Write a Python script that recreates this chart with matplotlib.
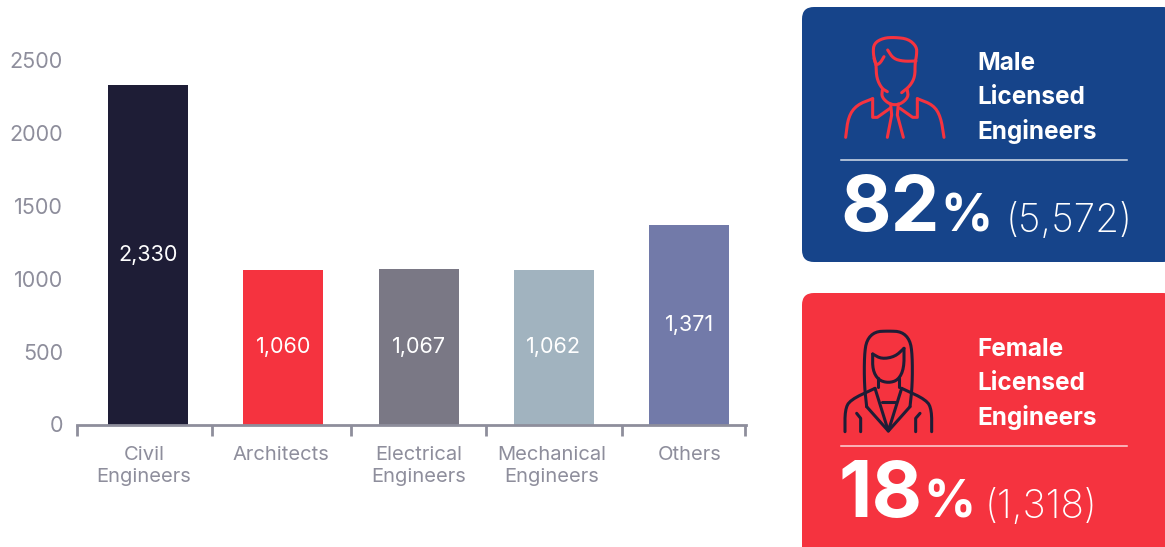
import numpy as np
import matplotlib
matplotlib.use("Agg")
import matplotlib.pyplot as plt
from matplotlib.patches import FancyBboxPatch

plt.rcParams['font.family'] = ['Inter', 'DejaVu Sans']

categories = ['Civil\nEngineers', 'Architects', 'Electrical\nEngineers', 'Mechanical\nEngineers', 'Others']
values = [2330, 1060, 1067, 1062, 1371]
value_labels = ['2,330', '1,060', '1,067', '1,062', '1,371']
bar_colors = ['#1e1d36', '#f5333f', '#7a7885', '#a1b3bf', '#727aa9']
yticks = [0, 500, 1000, 1500, 2000, 2500]
xbreaks = [-0.525, 0.47, 1.5, 2.5, 3.505, 4.415]
label_shift = [-0.03, -0.02, 0, -0.015, 0]

NAVY = '#16448a'
RED = '#f5333f'
DARK = '#1e1d36'
GREY = '#8e8e9c'
W, H = 1165, 547

fig = plt.figure(figsize=(W / 100, H / 100), dpi=100)

# overlay in pixel units for the two cards
bg = fig.add_axes([0, 0, 1, 1])
bg.set_xlim(0, W)
bg.set_ylim(H, 0)
bg.axis('off')

# bar chart
ax = fig.add_axes([77 / W, (H - 424.5) / H, (746 - 77) / W, 364.5 / H])
ax.patch.set_alpha(0)
px_per_cat = 135.3
ax.set_xlim((77 - 148) / px_per_cat, (746 - 148) / px_per_cat)
ax.set_ylim(0, 2500)
x = np.arange(len(values))
ax.bar(x, values, width=80 / px_per_cat, color=bar_colors, zorder=2)
for xi, v, lab in zip(x, values, value_labels):
    ax.text(xi, v * 0.5, lab, ha='center', va='center', color='white', fontsize=15.5)

for s in ['top', 'right', 'left']:
    ax.spines[s].set_visible(False)
ax.spines['bottom'].set_color(GREY)
ax.spines['bottom'].set_linewidth(2)
ax.set_yticks(yticks)
ax.tick_params(axis='y', length=0, pad=10, labelsize=15.5, labelcolor=GREY)
ax.set_xticks(xbreaks)
ax.set_xticklabels([])
ax.tick_params(axis='x', length=8, width=2, color=GREY)
ax.set_xticks(x + np.array(label_shift), minor=True)
ax.set_xticklabels(categories, minor=True, fontsize=14.5, color=GREY, linespacing=1.3)
ax.tick_params(axis='x', which='minor', length=0, pad=15.5)


def card(x0, y0, x1, y1, color):
    bg.add_patch(FancyBboxPatch((x0 + 12, y0 + 12), x1 - x0 - 24, y1 - y0 - 24,
                                boxstyle='round,pad=12,rounding_size=12',
                                fc=color, ec='none'))


def soften(p, rounds=2):
    # corner cutting, end points stay where they are
    for _ in range(rounds):
        q = [p[0]]
        for a, b in zip(p[:-1], p[1:]):
            q.append(0.75 * a + 0.25 * b)
            q.append(0.25 * a + 0.75 * b)
        q.append(p[-1])
        p = np.array(q)
    return p


def icon(paths, color, yoff):
    for p, smooth in paths:
        p = np.array(p, dtype=float)
        if smooth:
            p = soften(p)
        bg.plot(800 + p[:, 0] / 3, yoff + p[:, 1] / 3, color=color, lw=2.2,
                solid_capstyle='round', solid_joinstyle='round')


male_icon = [
    ([(228, 195), (219, 160), (222, 130), (250, 114), (285, 112), (325, 117), (350, 140), (350, 165), (345, 190), (345, 230), (330, 258), (305, 278)], True),
    ([(228, 195), (230, 235), (245, 265), (262, 275)], True),
    ([(222, 175), (228, 195), (240, 190), (252, 170)], True),
    ([(263, 150), (280, 176), (310, 184), (348, 183)], True),
    ([(247, 270), (245, 292), (270, 314), (300, 314), (325, 292), (322, 270)], True),
    ([(137, 412), (145, 350), (170, 315), (218, 296)], True),
    ([(218, 296), (218, 352), (232, 352), (270, 325)], False),
    ([(432, 412), (422, 350), (400, 315), (352, 296)], True),
    ([(352, 296), (352, 352), (338, 352), (300, 325)], False),
    ([(272, 312), (275, 345), (262, 412)], False),
    ([(295, 312), (292, 345), (310, 412)], False),
]
female_icon = [
    ([(200, 365), (193, 300), (193, 210), (200, 165), (225, 140), (265, 138), (305, 140), (330, 165), (337, 210), (337, 300), (330, 365)], True),
    ([(200, 365), (265, 438), (330, 365)], False),
    ([(225, 310), (265, 438), (305, 310)], False),
    ([(218, 207), (245, 222), (285, 215), (312, 190)], True),
    ([(218, 207), (218, 255), (235, 285), (265, 294), (295, 285), (312, 250), (312, 190)], True),
    ([(235, 280), (235, 305)], False),
    ([(297, 280), (297, 305)], False),
    ([(135, 440), (135, 375), (150, 345), (225, 310)], True),
    ([(395, 440), (395, 375), (380, 345), (305, 310)], True),
    ([(245, 350), (285, 350)], False),
    ([(170, 385), (182, 400), (182, 440)], False),
    ([(360, 385), (347, 400), (347, 440)], False),
]

card(802, 7, 1175, 262, NAVY)
card(802, 293, 1175, 560, RED)
icon(male_icon, RED, 0)
icon(female_icon, DARK, 285)

bg.plot([841, 1127], [159.5, 159.5], color='#d5deea', lw=1.1)
bg.plot([841, 1127], [445.5, 445.5], color='#fcd5d8', lw=1.1)

for y, word in zip([63, 97, 132], ['Male', 'Licensed', 'Engineers']):
    bg.text(977, y, word, color='white', fontsize=17.5, fontweight='bold', va='center')
for y, word in zip([349, 384, 418], ['Female', 'Licensed', 'Engineers']):
    bg.text(977, y, word, color='white', fontsize=17.5, fontweight='bold', va='center')

bg.text(840, 231, '82', color='white', fontsize=56, fontweight='bold', va='baseline')
bg.text(940, 231, '%', color='white', fontsize=37, fontweight='bold', va='baseline')
bg.text(1006, 232, '(5,572)', color='white', fontsize=28, fontweight='light', va='baseline')

bg.text(838, 517, '18', color='white', fontsize=56, fontweight='bold', va='baseline')
bg.text(923, 517, '%', color='white', fontsize=37, fontweight='bold', va='baseline')
bg.text(985, 518, '(1,318)', color='white', fontsize=28, fontweight='light', va='baseline')

fig.savefig('out.png', dpi=100, facecolor='white')
